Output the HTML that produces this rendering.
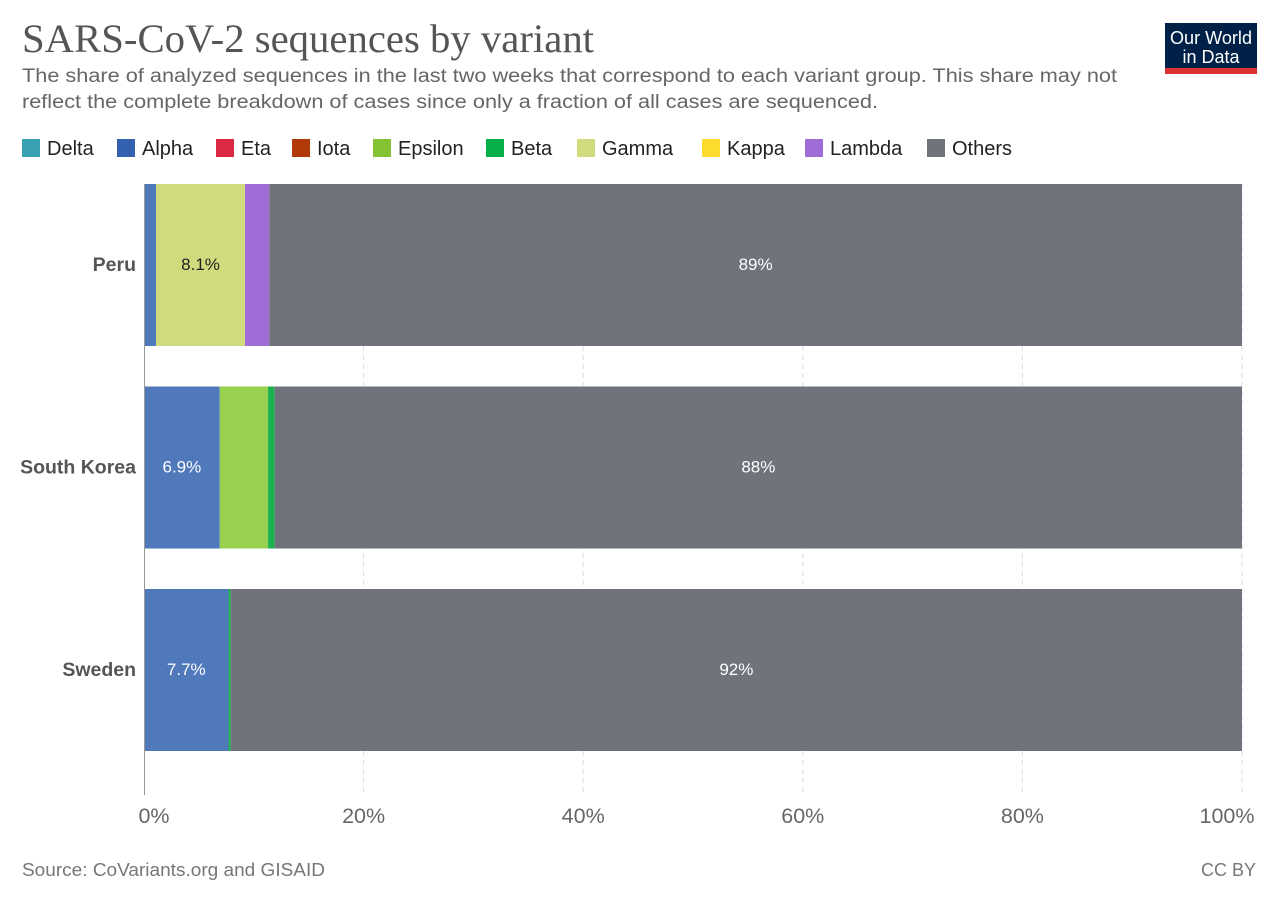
<!DOCTYPE html>
<html><head><meta charset="utf-8">
<style>
body{margin:0;background:#fff;font-family:"Liberation Sans",sans-serif;}
#wrap{position:relative;width:1280px;height:903px;overflow:hidden;}
</style></head>
<body>
<div id="wrap">
<svg id="chart" width="1280" height="903">
<text x="22" y="52" font-family="Liberation Serif,serif" font-size="40" fill="#555" textLength="572" lengthAdjust="spacingAndGlyphs">SARS-CoV-2 sequences by variant</text>
<text x="22" y="82" font-size="19" fill="#666" textLength="1095" lengthAdjust="spacingAndGlyphs">The share of analyzed sequences in the last two weeks that correspond to each variant group. This share may not</text>
<text x="22" y="108" font-size="19" fill="#666" textLength="856" lengthAdjust="spacingAndGlyphs">reflect the complete breakdown of cases since only a fraction of all cases are sequenced.</text>
<g>
<rect x="1165" y="23" width="92" height="51" fill="#002147"/>
<rect x="1165" y="68" width="92" height="6" fill="#dc3232"/>
<text x="1211" y="44" font-size="18" fill="#fff" text-anchor="middle" textLength="82" lengthAdjust="spacingAndGlyphs">Our World</text>
<text x="1211" y="63" font-size="18" fill="#fff" text-anchor="middle">in Data</text>
</g>
<g id="legend"></g>
<g id="grid"></g>
<g id="bars"></g>
<g id="xaxis"></g>
<text x="22" y="876" font-size="18" fill="#777" textLength="303" lengthAdjust="spacingAndGlyphs">Source: CoVariants.org and GISAID</text>
<text x="1256" y="876" font-size="18" fill="#777" text-anchor="end">CC BY</text>
</svg>
</div>
<script>
const variants=["Delta","Alpha","Eta","Iota","Epsilon","Beta","Gamma","Kappa","Lambda","Others"];
const colors=["#38a0b0","#3460b0","#dc2a44","#b03a0a","#84c234","#08b04a","#cfdb7c","#fbdc2c","#a06cd8","#70737c"];
const fillColors=["#38a0b0","#4f79bb","#dc2a44","#b03a0a","#98d050","#1cb050","#cfdb7c","#fbdc2c","#a06cd8","#70737c"];
const countries=["Peru","South Korea","Sweden"];
const peru=[0,1.1,0,0,0,0,8.1,0,2.2,88.6];
const southKorea=[0,6.9,0,0,4.4,0.6,0,0,0,88.1];
const sweden=[0,7.7,0,0,0,0.2,0,0,0,92.1];
const seriesByCountry=[peru,southKorea,sweden];
const labels=[{6:"8.1%",9:"89%"},{1:"6.9%",9:"88%"},{1:"7.7%",9:"92%"}];
const ticks=[0,20,40,60,80,100];
const NS="http://www.w3.org/2000/svg";
const x0=144,x1=1242;
const xs=v=>x0+(x1-x0)*v/100;
const yTop=i=>184+i*202.5, bh=162;
function mk(t,a,p){const e=document.createElementNS(NS,t);for(const k in a)e.setAttribute(k,a[k]);p.appendChild(e);return e;}
const lg=document.getElementById('legend');
const legendX=[22,117,216,292,373,486,577,702,805,927];
variants.forEach((v,i)=>{
 const g=mk('g',{},lg);
 
 
 mk('rect',{x:legendX[i],y:139,width:18,height:18,fill:colors[i]},g);
 const t=mk('text',{x:legendX[i]+25,y:155,'font-size':20,fill:'#222'},g);t.textContent=v;
});
const gr=document.getElementById('grid'),xa=document.getElementById('xaxis');
ticks.forEach(t=>{
 if(t>0){const l=mk('line',{x1:xs(t),x2:xs(t),y1:184,y2:795,stroke:'#ddd','stroke-dasharray':'5,4'},gr);
 }
 const tx=mk('text',{x:xs(t)+(t==0?10:t==100?-15:0),y:823,'font-size':21.5,fill:'#666','text-anchor':'middle'},xa);
 tx.textContent=t+'%';
 
});
mk('line',{x1:144.5,x2:144.5,y1:184,y2:795,stroke:'#999'},xa);
const bg=document.getElementById('bars');
countries.forEach((c,ci)=>{
 const y=yTop(ci);
 const lbl=mk('text',{x:136,y:y+bh/2+6,'font-size':19.5,'font-weight':'bold',fill:'#555','text-anchor':'end'},bg);
 lbl.textContent=c;
 
 
 let acc=0;
 seriesByCountry[ci].forEach((v,vi)=>{
  if(v<=0)return;
  const r=mk('rect',{x:xs(acc),y:y,width:xs(acc+v)-xs(acc),height:bh,fill:fillColors[vi]},bg);
  
  
  const L=labels[ci][vi];
  if(L){const t=mk('text',{x:(xs(acc)+xs(acc+v))/2,y:y+bh/2+5,'font-size':17,fill:vi==6?'#222':'#fff','text-anchor':'middle'},bg);
   t.textContent=L;
   
   }
  acc+=v;
 });
});
</script>
</body></html>
